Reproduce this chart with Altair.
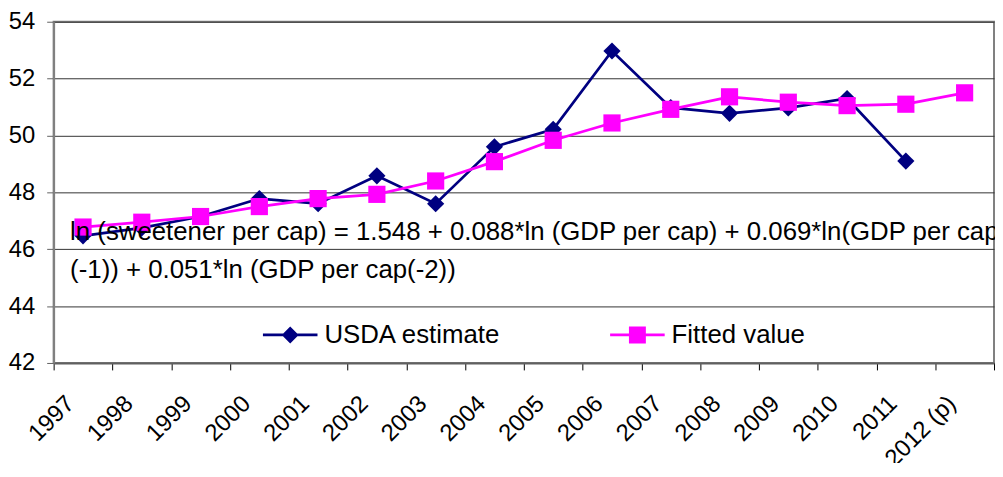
import altair as alt
import pandas as pd

years = ["1997", "1998", "1999", "2000", "2001", "2002", "2003", "2004",
         "2005", "2006", "2007", "2008", "2009", "2010", "2011", "2012 (p)"]
usda = [46.47, 46.75, 47.15, 47.78, 47.6, 48.58, 47.6, 49.6,
        50.22, 52.97, 50.98, 50.78, 50.97, 51.3, 49.1, None]
fitted = [46.78, 46.95, 47.15, 47.5, 47.78, 47.93, 48.4, 49.08,
          49.83, 50.44, 50.92, 51.36, 51.17, 51.05, 51.1, 51.5]
series_names = ["USDA estimate", "Fitted value"]
series_colors = ["#000080", "#FF00FF"]
series_shapes = ["diamond", "square"]
eq_lines = ["ln (sweetener per cap) = 1.548 + 0.088*ln (GDP per cap) + 0.069*ln(GDP per cap",
            "(-1)) + 0.051*ln (GDP per cap(-2))"]
eq_y = [46.6, 45.28]
source_text = "Source: USDA, ERS, GDP data from BEA, and ERS, Sugar and Sweetener Outlook, various issues"

FONT = "Liberation Sans"

rows = []
for name, vals in zip(series_names, [usda, fitted]):
    for i, (y, v) in enumerate(zip(years, vals)):
        if v is not None:
            rows.append({"year": y, "value": v, "series": name, "order": i})
df = pd.DataFrame(rows)
eq_df = pd.DataFrame({"year": ["1997", "1997"], "value": eq_y, "text": eq_lines})

x_enc = alt.X("year:N", sort=years,
              scale=alt.Scale(type="band", paddingInner=0, paddingOuter=0, domain=years),
              axis=alt.Axis(title=None, tickBand="extent", labelAngle=315,
                            labelAlign="right", labelBaseline="middle",
                            labelPadding=30, labelOffset=-13, tickSize=7,
                            tickColor="#000000", domainColor="#606060", domainWidth=2,
                            labelFont=FONT, labelFontSize=24, labelColor="#000000",
                            grid=False))
y_enc = alt.Y("value:Q",
              scale=alt.Scale(domain=[42, 54], nice=False, zero=False),
              axis=alt.Axis(title=None, values=[42, 44, 46, 48, 50, 52, 54],
                            tickSize=7, tickColor="#606060", labelPadding=12,
                            labelFont=FONT, labelFontSize=24, labelColor="#000000",
                            domainColor="#808080", domainWidth=2,
                            grid=True, gridColor="#333333", gridWidth=1))

color_scale = alt.Scale(domain=series_names, range=series_colors)

usda_sym = "M-1,-0.05H1V0.05H-1ZM0,-0.31L0.31,0L0,0.31L-0.31,0Z"
fit_sym = "M-1,-0.05H1V0.05H-1ZM-0.31,-0.31H0.31V0.31H-0.31Z"
sym_expr = "datum.value === 'USDA estimate' ? '" + usda_sym + "' : '" + fit_sym + "'"

legend = alt.Legend(
    title=None, orient="none", legendX=211, legendY=288,
    direction="horizontal", columns=2, padding=0,
    labelFont=FONT, labelFontSize=26, labelColor="#000000", labelLimit=400,
    symbolSize=3025, labelOffset=7, columnPadding=110,
    symbolType=alt.ExprRef(sym_expr),
    symbolStrokeWidth=0, symbolOpacity=1)

layers = []
for name, col, shp in zip(series_names, series_colors, series_shapes):
    layers.append(
        alt.Chart(df).transform_filter(alt.datum.series == name)
        .mark_line(strokeWidth=2.75, color=col)
        .encode(x=x_enc, y=y_enc, order="order:Q")
    )
for name, col, shp in zip(series_names, series_colors, series_shapes):
    layers.append(
        alt.Chart(df).transform_filter(alt.datum.series == name)
        .mark_point(filled=True, size=300, opacity=1, shape=shp)
        .encode(x=x_enc, y=y_enc,
                color=alt.Color("series:N", scale=color_scale, legend=legend))
    )

eq = alt.Chart(eq_df).mark_text(align="left", baseline="middle", dx=-13,
                                font=FONT, fontSize=26, color="#000000").encode(
    x=alt.X("year:N", sort=years), y=alt.Y("value:Q"), text="text:N")
layers.append(eq)

chart = alt.layer(*layers).properties(
    width=948, height=344,
    autosize=alt.AutoSizeParams(type="none"),
    padding={"left": 46, "top": 12, "right": 1, "bottom": 99},
    title=alt.TitleParams(source_text, orient="bottom", anchor="start", dx=-41, offset=10,
                          font=FONT, fontSize=16, fontWeight="normal", color="#000000"),
).configure_view(stroke="#808080", strokeWidth=2)

chart.save("out.html", embed_options={"renderer": "svg", "actions": False})
